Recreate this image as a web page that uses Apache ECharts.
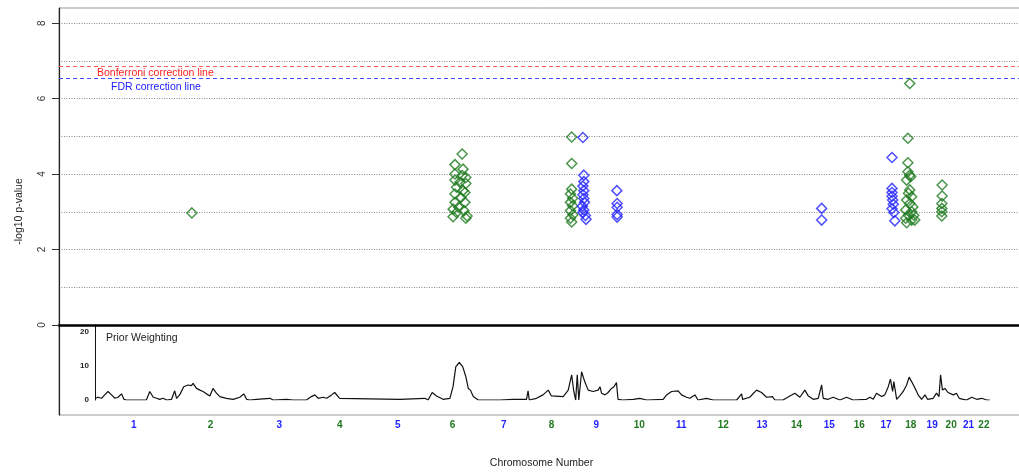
<!DOCTYPE html>
<html>
<head>
<meta charset="utf-8">
<script src="https://cdn.jsdelivr.net/npm/echarts@6/dist/echarts.min.js"></script>
<style>
  html, body { margin: 0; padding: 0; background: #ffffff; }
  #chart { width: 1019px; height: 473px; }
</style>
</head>
<body>
<div id="chart"></div>
<script>
// Chromosome layout (hg19 lengths, Mb); genome position = cumulative Mb
const chromosomeNames = ['1','2','3','4','5','6','7','8','9','10','11','12','13','14','15','16','17','18','19','20','21','22'];
const chromosomeLengthsMb = [249.25, 243.2, 198.0, 191.15, 180.9, 171.1, 159.1, 146.4, 141.2, 135.5, 135.0, 133.9, 115.2, 107.3, 102.5, 90.4, 81.2, 78.1, 59.1, 63.0, 48.1, 51.3];

// -log10 p-value axis
const pValueTicks = [0, 2, 4, 6, 8];
const bonferroniLine = 6.85;
const fdrLine = 6.54;

// Hits on even-numbered chromosomes: [genome position Mb, -log10 p]
const evenChromosomeHits = [
  [311, 2.97],
  [1179, 4.53], [1156, 4.25], [1182, 4.13], [1156, 4.00], [1179, 3.96], [1191, 3.91], [1156, 3.84],
  [1172, 3.78], [1191, 3.75], [1161, 3.65], [1182, 3.56], [1188, 3.51], [1156, 3.47], [1175, 3.38],
  [1188, 3.25], [1156, 3.25], [1168, 3.12], [1150, 3.07], [1185, 3.03], [1161, 2.98], [1195, 2.89],
  [1150, 2.87], [1191, 2.83],
  [1531, 4.98], [1531, 4.28], [1531, 3.60], [1527, 3.47], [1534, 3.36], [1527, 3.25], [1534, 3.16],
  [1527, 3.03], [1535, 2.92], [1527, 2.83], [1531, 2.73],
  [2617, 6.40], [2611, 4.95], [2611, 4.30], [2611, 4.06], [2617, 3.97], [2620, 3.93], [2607, 3.84],
  [2617, 3.58], [2613, 3.49], [2623, 3.40], [2607, 3.31], [2617, 3.22], [2627, 3.13], [2604, 3.05],
  [2623, 3.00], [2613, 2.91], [2630, 2.91], [2604, 2.83], [2623, 2.78], [2633, 2.78], [2607, 2.71],
  [2721, 3.71], [2721, 3.42], [2720, 3.22], [2720, 3.09], [2720, 3.00], [2720, 2.89]
];

// Hits on odd-numbered chromosomes: [genome position Mb, -log10 p]
const oddChromosomeHits = [
  [1567, 4.97], [1570, 3.97], [1570, 3.80], [1567, 3.68], [1570, 3.56], [1567, 3.45], [1570, 3.35],
  [1572, 3.25], [1565, 3.15], [1570, 3.05], [1567, 2.98], [1575, 2.90], [1577, 2.80],
  [1676, 3.56], [1677, 3.22], [1677, 3.12], [1677, 2.93], [1677, 2.86],
  [2334, 3.09], [2334, 2.78],
  [2560, 4.44], [2560, 3.62], [2560, 3.51], [2560, 3.41], [2562, 3.31], [2564, 3.20], [2560, 3.08],
  [2566, 2.98], [2569, 2.76]
];

// Prior weighting along the genome: [genome position Mb, weight]
const priorTicks = [0, 10, 20];
const priorWeighting = [
  [0, 0.5], [10, 0.8], [21, 0.5], [31, 1.5], [42, 2.5], [53, 1.5], [64, 0.5], [74, 0.8], [85, 1.8],
  [93, 0.2], [101, 0], [165, 0], [176, 2.5], [187, 0.8], [198, 0.5], [208, 0.2], [219, 0.5], [230, 0],
  [246, 0.2], [256, 2.7], [262, 0.5], [272, 1.5], [285, 3.9], [299, 4.4], [310, 4.2], [315, 4.9],
  [326, 3.4], [337, 2.9], [347, 2.5], [358, 1.8], [369, 1.2], [379, 3.4], [390, 2.0], [401, 1.0],
  [422, 0.5], [444, 0.2], [465, 0.8], [478, 1.8], [487, 0.2], [497, 0], [519, 0.2], [562, 0.5],
  [572, 0], [615, 0.2], [636, 0], [679, 0], [695, 1.0], [706, 1.5], [717, 0.5], [733, 0.8], [744, 0.5],
  [760, 1.5], [770, 2.2], [786, 0.5],
  [979, 0.2], [1059, 0.5], [1070, 0], [1083, 2.2], [1097, 1.2], [1118, 0.2], [1140, 0.5], [1150, 3.9],
  [1159, 9.8], [1170, 11.0], [1181, 9.8], [1191, 6.9], [1199, 3.4], [1206, 2.9], [1215, 1.0], [1231, 0],
  [1300, 0], [1343, 0.2], [1386, 0.2], [1391, 2.7], [1395, 0], [1418, 0.5], [1439, 1.5], [1456, 2.9],
  [1466, 1.2], [1504, 1.0], [1520, 2.9], [1531, 7.4], [1538, 2.5], [1544, 0], [1549, 7.4], [1554, 0],
  [1563, 8.3], [1573, 5.4], [1584, 2.9], [1600, 2.5], [1616, 2.9], [1622, 3.9], [1627, 2.0], [1638, 1.5],
  [1648, 2.2], [1659, 3.4], [1667, 3.9], [1675, 5.1], [1680, 0.2], [1696, 0], [1729, 0.2], [1750, 0.5],
  [1772, 0], [1825, 0.2], [1836, 1.5], [1852, 2.5], [1873, 2.7], [1884, 1.5], [1900, 0.8], [1911, 0.5],
  [1927, 1.5], [1937, 0],
  [1943, 0.2], [1964, 0.5], [1986, 0], [2061, 0], [2077, 1.8], [2080, 0.2], [2103, 0.8], [2125, 2.9],
  [2141, 2.2], [2157, 0.8], [2176, 1.0], [2184, 0], [2210, 0], [2232, 1.2], [2248, 2.0], [2264, 0.8],
  [2280, 2.9], [2291, 1.2], [2307, 0.2], [2323, 0.5], [2334, 4.4], [2339, 0.5], [2355, 0.2], [2371, 0.8],
  [2393, 0], [2414, 0.8], [2435, 0], [2478, 0.2], [2489, 0.8], [2500, 0.2], [2510, 2.0], [2527, 1.0],
  [2537, 1.5], [2548, 3.9], [2555, 6.1], [2562, 2.5], [2566, 5.4], [2575, 0.2], [2585, 1.2], [2596, 2.5],
  [2607, 4.4], [2615, 6.7], [2623, 5.4], [2628, 5.9], [2637, 2.9], [2644, 1.5], [2655, 0.2], [2666, 1.5],
  [2674, 0.2], [2692, 0.5], [2703, 2.0], [2711, 1.0], [2716, 7.4], [2722, 2.9], [2730, 3.4], [2740, 2.2],
  [2757, 1.5], [2767, 2.0], [2776, 0.5], [2789, 0.2], [2800, 0], [2816, 0.8], [2832, 0.2], [2848, 0.5],
  [2864, 0], [2874, 0]
];

// Chromosome label positions at each chromosome's midpoint
const chromosomeStarts = [];
let runningTotal = 0;
chromosomeLengthsMb.forEach(function (len) { chromosomeStarts.push(runningTotal); runningTotal += len; });
const chromosomeMids = chromosomeLengthsMb.map(function (len, i) {
  return Math.round((chromosomeStarts[i] + len / 2) * 1000) / 1000;
});

const GREEN = '#1f7a1f';
const BLUE = '#2424ff';
const FONT = '"Liberation Sans", Arial, Helvetica, sans-serif';
const X_MIN = -116;
const X_MAX = 2984;

function chromosomeLabel(value) {
  for (let i = 0; i < chromosomeMids.length; i++) {
    if (Math.abs(chromosomeMids[i] - value) < 0.01) {
      return '{' + (i % 2 === 0 ? 'odd' : 'even') + '|' + chromosomeNames[i] + '}';
    }
  }
  return '';
}

const chart = echarts.init(document.getElementById('chart'), null, { renderer: 'canvas' });

const hitSymbol = {
  type: 'scatter',
  xAxisIndex: 1,
  yAxisIndex: 1,
  symbol: 'diamond',
  symbolSize: 10,
  silent: true,
  z: 5
};

const gridBase = { left: 59, right: -5, containLabel: false, outerBoundsMode: 'none' };

chart.setOption({
  animation: false,
  backgroundColor: '#ffffff',
  textStyle: { fontFamily: FONT },
  title: {
    text: 'Prior Weighting',
    left: 106,
    top: 333,
    padding: 0,
    textStyle: { fontFamily: FONT, fontSize: 10.5, fontWeight: 'normal', color: '#222' }
  },
  grid: [
    Object.assign({}, gridBase, { top: 8, bottom: 58, show: true, borderColor: '#9a9a9a', borderWidth: 1, backgroundColor: 'transparent' }),
    Object.assign({}, gridBase, { top: 8, bottom: 148 }),
    // prior panel starts at genome position 0
    Object.assign({}, gridBase, { left: 95, top: 325, bottom: 73 })
  ],
  xAxis: [
    {
      gridIndex: 0, type: 'value', min: X_MIN, max: X_MAX, position: 'bottom',
      axisLine: { show: false }, axisTick: { show: false }, splitLine: { show: false },
      axisLabel: {
        customValues: chromosomeMids,
        formatter: chromosomeLabel,
        margin: 5,
        rich: {
          odd: { color: BLUE, fontWeight: 'bold', fontSize: 10, fontFamily: FONT },
          even: { color: GREEN, fontWeight: 'bold', fontSize: 10, fontFamily: FONT }
        }
      },
      name: 'Chromosome Number',
      nameLocation: 'middle',
      nameGap: 43,
      nameTextStyle: { fontFamily: FONT, fontSize: 10.5, color: '#222' }
    },
    {
      gridIndex: 1, type: 'value', min: X_MIN, max: X_MAX, position: 'bottom',
      axisLine: { show: true, onZero: false, lineStyle: { color: '#000', width: 2.5 } },
      axisTick: { show: false }, axisLabel: { show: false }, splitLine: { show: false }
    },
    { gridIndex: 2, type: 'value', min: 0, max: X_MAX, show: false }
  ],
  yAxis: [
    {
      gridIndex: 0, type: 'value', min: 0, max: 1, position: 'left',
      axisLine: { show: true, onZero: false, lineStyle: { color: '#222', width: 1.2 } },
      axisTick: { show: false }, axisLabel: { show: false }, splitLine: { show: false },
      name: '-log10 p-value',
      nameLocation: 'middle',
      nameGap: 34,
      nameTextStyle: { fontFamily: FONT, fontSize: 10.5, color: '#222' }
    },
    {
      gridIndex: 1, type: 'value', min: 0, max: 8.4, interval: 1, position: 'left',
      axisLine: { show: false, onZero: false }, axisTick: { show: false }, axisLabel: { show: false },
      splitLine: { show: true, showMaxLine: false, lineStyle: { type: [1, 1.5], color: '#8c8c8c', width: 1 } }
    },
    {
      gridIndex: 1, type: 'value', min: 0, max: 8.4, interval: 2, position: 'left', offset: 0,
      axisLine: { show: false, onZero: false },
      axisTick: { show: true, length: 7, customValues: pValueTicks, lineStyle: { color: '#333', width: 1 } },
      axisLabel: { customValues: pValueTicks, rotate: 90, margin: 12, fontSize: 10, color: '#333', fontFamily: FONT },
      splitLine: { show: false }
    },
    {
      gridIndex: 2, type: 'value', min: 0, max: 22, interval: 10, position: 'left',
      axisLine: { show: true, onZero: false, lineStyle: { color: '#111', width: 1 } },
      axisTick: { show: false },
      axisLabel: { customValues: priorTicks, fontSize: 8, fontWeight: 'bold', margin: 6, color: '#222', fontFamily: FONT },
      splitLine: { show: false }
    }
  ],
  series: [
    Object.assign({}, hitSymbol, {
      name: 'even',
      data: evenChromosomeHits,
      itemStyle: { color: 'rgba(0,0,0,0)', borderColor: GREEN, borderWidth: 1.5 },
      markLine: {
        silent: true,
        symbol: ['none', 'none'],
        animation: false,
        data: [
          {
            yAxis: bonferroniLine,
            lineStyle: { color: '#ff5c5c', type: [4, 3], width: 1 },
            label: {
              formatter: 'Bonferroni correction line', position: 'insideStartBottom', distance: [38, 1],
              color: '#ff2020', fontSize: 10.5, fontFamily: FONT
            }
          },
          {
            yAxis: fdrLine,
            lineStyle: { color: '#4848ff', type: [4, 3], width: 1 },
            label: {
              formatter: 'FDR correction line', position: 'insideStartBottom', distance: [52, 3],
              color: '#1a1aff', fontSize: 10.5, fontFamily: FONT
            }
          }
        ]
      }
    }),
    Object.assign({}, hitSymbol, {
      name: 'odd',
      data: oddChromosomeHits,
      itemStyle: { color: 'rgba(0,0,0,0)', borderColor: BLUE, borderWidth: 1.5 }
    }),
    {
      type: 'line',
      name: 'prior',
      xAxisIndex: 2,
      yAxisIndex: 3,
      data: priorWeighting,
      showSymbol: false,
      silent: true,
      lineStyle: { color: '#111', width: 1.2 }
    }
  ]
});
</script>
</body>
</html>
